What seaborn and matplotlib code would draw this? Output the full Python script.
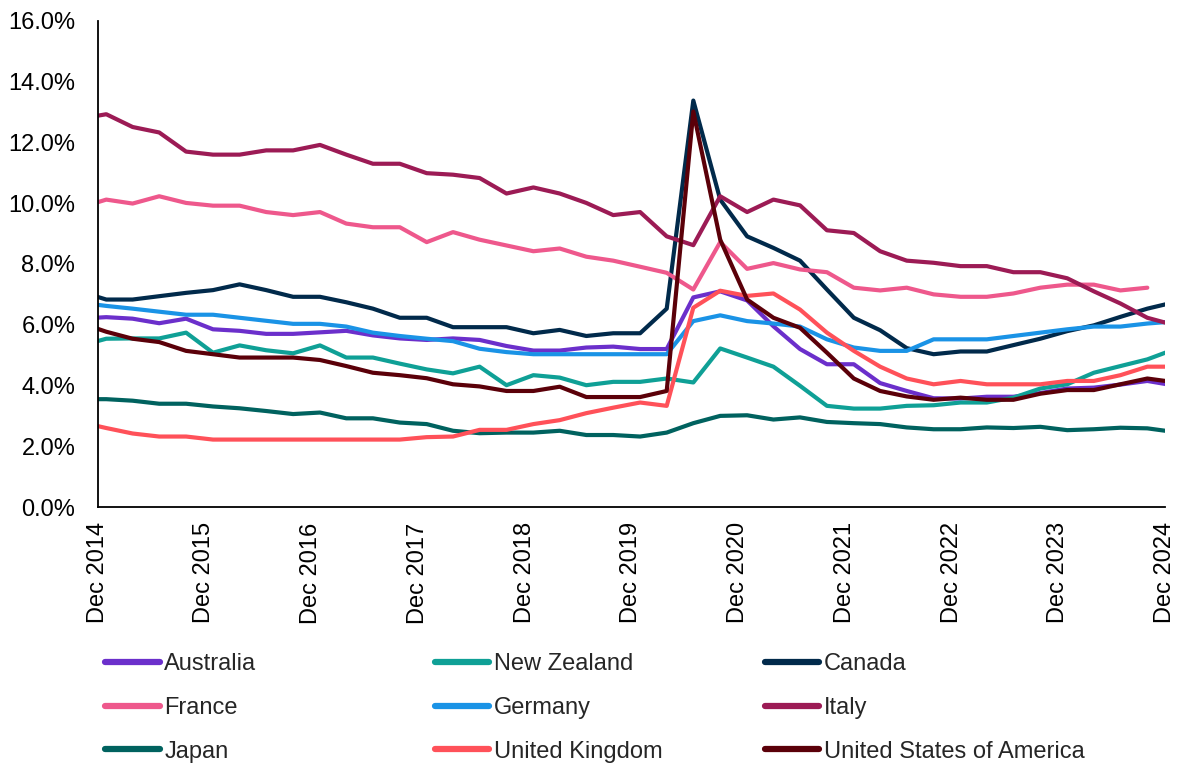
import numpy as np
import pandas as pd
import matplotlib
matplotlib.use("Agg")
import matplotlib.pyplot as plt
import matplotlib.dates as mdates
from matplotlib.ticker import FuncFormatter
from matplotlib.lines import Line2D
import seaborn as sns

# Quarterly unemployment rates (%), Q3 2014 to Q4 2024, stamped at quarter end
quarters = pd.date_range("2014-09-30", periods=42, freq="QE")

australia = [6.2, 6.25, 6.2, 6.05, 6.2, 5.85, 5.8, 5.7, 5.7, 5.75,
             5.8, 5.65, 5.55, 5.5, 5.55, 5.5, 5.3, 5.15, 5.15, 5.25,
             5.28, 5.2, 5.2, 6.9, 7.1, 6.8, 5.95, 5.2, 4.7, 4.7,
             4.08, 3.82, 3.58, 3.57, 3.63, 3.63, 3.75, 3.9, 3.93, 4.03,
             4.15, 4.0]
new_zealand = [5.3, 5.54, 5.55, 5.55, 5.74, 5.08, 5.32, 5.16, 5.06, 5.32,
               4.92, 4.92, 4.72, 4.53, 4.4, 4.62, 4.01, 4.34, 4.26, 4.01,
               4.12, 4.12, 4.23, 4.1, 5.22, 4.92, 4.62, 3.99, 3.33, 3.24,
               3.24, 3.33, 3.35, 3.44, 3.44, 3.6, 3.9, 4.04, 4.42, 4.64,
               4.86, 5.19]
canada = [7.1, 6.83, 6.83, 6.94, 7.05, 7.14, 7.33, 7.14, 6.92, 6.92,
          6.74, 6.53, 6.23, 6.23, 5.92, 5.92, 5.92, 5.72, 5.83, 5.63,
          5.72, 5.72, 6.53, 13.38, 10.12, 8.91, 8.53, 8.11, 7.16, 6.23,
          5.82, 5.23, 5.03, 5.12, 5.12, 5.33, 5.54, 5.79, 5.98, 6.26,
          6.53, 6.74]
france = [9.85, 10.12, 9.99, 10.23, 10.01, 9.92, 9.92, 9.71, 9.61, 9.71,
          9.33, 9.21, 9.21, 8.72, 9.05, 8.8, 8.61, 8.42, 8.51, 8.24,
          8.11, 7.91, 7.71, 7.16, 8.72, 7.84, 8.03, 7.82, 7.73, 7.22,
          7.13, 7.22, 7.0, 6.92, 6.92, 7.03, 7.22, 7.32, 7.32, 7.13,
          7.22, np.nan]
germany = [6.73, 6.62, 6.53, 6.43, 6.33, 6.33, 6.23, 6.13, 6.03, 6.03,
           5.94, 5.74, 5.63, 5.54, 5.46, 5.21, 5.1, 5.03, 5.03, 5.03,
           5.03, 5.03, 5.03, 6.12, 6.31, 6.12, 6.04, 5.94, 5.52, 5.25,
           5.14, 5.14, 5.52, 5.52, 5.52, 5.63, 5.74, 5.85, 5.94, 5.94,
           6.04, 6.11]
italy = [12.78, 12.93, 12.51, 12.33, 11.7, 11.6, 11.6, 11.74, 11.74, 11.92,
         11.6, 11.3, 11.3, 10.99, 10.94, 10.83, 10.32, 10.52, 10.32, 10.01,
         9.61, 9.71, 8.91, 8.62, 10.23, 9.71, 10.12, 9.93, 9.11, 9.02,
         8.42, 8.11, 8.04, 7.93, 7.93, 7.73, 7.73, 7.53, 7.1, 6.7,
         6.23, 5.99]
japan = [3.55, 3.55, 3.5, 3.4, 3.4, 3.31, 3.25, 3.16, 3.06, 3.11,
         2.92, 2.92, 2.78, 2.73, 2.51, 2.43, 2.45, 2.45, 2.51, 2.37,
         2.37, 2.32, 2.45, 2.76, 3.0, 3.02, 2.88, 2.95, 2.8, 2.76,
         2.73, 2.62, 2.56, 2.56, 2.62, 2.6, 2.64, 2.53, 2.56, 2.61,
         2.59, 2.47]
united_kingdom = [2.8, 2.6, 2.42, 2.32, 2.32, 2.22, 2.22, 2.22, 2.22, 2.22,
                  2.22, 2.22, 2.22, 2.3, 2.32, 2.54, 2.54, 2.73, 2.86, 3.09,
                  3.27, 3.44, 3.33, 6.56, 7.12, 6.95, 7.03, 6.5, 5.74, 5.14,
                  4.62, 4.23, 4.04, 4.15, 4.04, 4.04, 4.04, 4.15, 4.15, 4.34,
                  4.62, 4.62]
united_states = [6.07, 5.77, 5.54, 5.43, 5.14, 5.03, 4.92, 4.92, 4.92, 4.84,
                 4.64, 4.42, 4.34, 4.24, 4.04, 3.97, 3.82, 3.82, 3.96, 3.62,
                 3.62, 3.62, 3.82, 13.02, 8.8, 6.83, 6.23, 5.9, 5.08, 4.23,
                 3.82, 3.64, 3.53, 3.6, 3.53, 3.53, 3.73, 3.85, 3.85, 4.04,
                 4.23, 4.11]

countries = ["Australia", "New Zealand", "Canada", "France", "Germany",
             "Italy", "Japan", "United Kingdom", "United States of America"]
series = [australia, new_zealand, canada, france, germany,
          italy, japan, united_kingdom, united_states]
colors = ["#6B2FCB", "#0FA096", "#012A4B", "#EE588C", "#1A93E6",
          "#9C1B55", "#00625F", "#FF5159", "#5B0009"]
y_ticks = [0, 2, 4, 6, 8, 10, 12, 14, 16]
x_start, x_end = "2014-12-01", "2024-12-01"

df = pd.DataFrame({"date": np.tile(quarters, len(countries)),
                   "country": np.repeat(countries, len(quarters)),
                   "rate": np.concatenate([np.asarray(s, float) for s in series])})
df = df.dropna()

sns.set_theme(style="white")
plt.rcParams["font.family"] = ["Liberation Sans", "DejaVu Sans"]

fig = plt.figure(figsize=(11.82, 7.63), dpi=100)
ax = fig.add_axes([0.0825, 0.3355, 0.9035, 0.637])

sns.lineplot(data=df, x="date", y="rate", hue="country", hue_order=countries,
             palette=dict(zip(countries, colors)), linewidth=3.0,
             estimator=None, legend=False, ax=ax)

ax.set_xlim(pd.Timestamp(x_start), pd.Timestamp(x_end))
ax.set_ylim(y_ticks[0], y_ticks[-1])
ax.set_yticks(y_ticks)
ax.yaxis.set_major_formatter(FuncFormatter(lambda v, _: f"{v:.1f}%"))
ax.xaxis.set_major_locator(mdates.MonthLocator(bymonth=12, bymonthday=1))
ax.xaxis.set_major_formatter(mdates.DateFormatter("%b %Y"))
ax.set_xlabel("")
ax.set_ylabel("")

for side in ("top", "right"):
    ax.spines[side].set_visible(False)
for side in ("left", "bottom"):
    ax.spines[side].set_color("black")
    ax.spines[side].set_linewidth(1.3)

ax.tick_params(axis="both", which="major", direction="out", length=6,
               width=1.3, color="black", labelsize=17, labelcolor="black")
ax.tick_params(axis="y", pad=10)
ax.tick_params(axis="x", pad=5)
for lbl in ax.get_xticklabels():
    lbl.set_rotation(90)
    lbl.set_ha("center")
    lbl.set_va("top")

# Legend laid out as three columns of three entries, read row by row
handles = [Line2D([], [], color=c, linewidth=4.5) for c in colors]
col_x = [0.0890, 0.3680, 0.6470]
for j, x0 in enumerate(col_x):
    idx = [j, j + 3, j + 6]
    fig.legend([handles[i] for i in idx], [countries[i] for i in idx],
               loc="upper left", bbox_to_anchor=(x0, 0.144), frameon=False,
               fontsize=17, handlelength=2.3, handletextpad=0.2,
               labelspacing=0.92, borderpad=0, borderaxespad=0)

fig.savefig("out.png", dpi=100, facecolor="white")
